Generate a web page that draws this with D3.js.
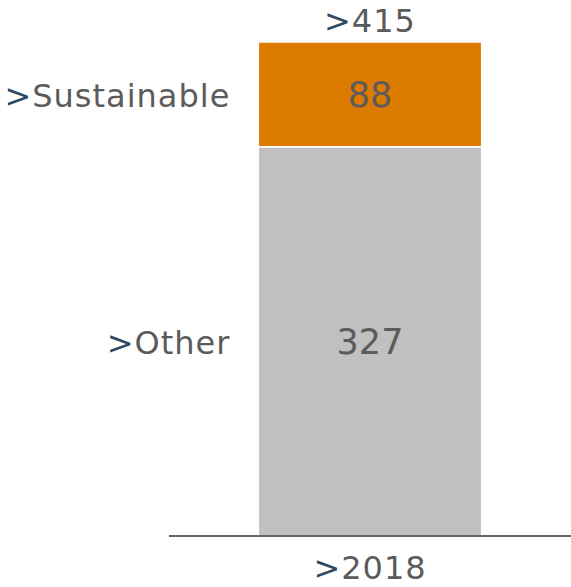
<!DOCTYPE html>
<html>
<head>
<meta charset="utf-8">
<script src="https://cdn.jsdelivr.net/npm/d3@7"></script>
<style>
  body { margin: 0; background: #fff; }
  text { font-family: "DejaVu Sans", Verdana, sans-serif; }
</style>
</head>
<body>
<div id="chart"></div>
<script>
// Data
const years = ["2018"];
const seriesNames = ["Other", "Sustainable"];
const other = [327];
const sustainable = [88];
const totals = [415];

const width = 571;
const height = 587;
const margin = { top: 42, right: 0, bottom: 51, left: 169 };

const colors = { Other: "#c0c0c0", Sustainable: "#dd7a00" };
const textColor = "#5b5b5b";
const arrowColor = "#2e4a62";
const labelSize = 32;
const valueSize = 35;

const svg = d3.select("#chart").append("svg").attr("width", width).attr("height", height);

const rows = years.map((y, i) => ({ year: y, Other: other[i], Sustainable: sustainable[i], total: totals[i] }));
const stacked = d3.stack().keys(seriesNames)(rows);

const xScale = d3
  .scaleBand()
  .domain(years)
  .range([margin.left, width - margin.right])
  .paddingInner(0)
  .paddingOuter(0.4);

const yScale = d3
  .scaleLinear()
  .domain([0, d3.max(totals)])
  .range([height - margin.bottom, margin.top]);

// label with a dark ">" prefix
function arrowText(sel, label) {
  sel.attr("letter-spacing", 1);
  sel.append("tspan").attr("fill", arrowColor).text(">");
  sel.append("tspan").attr("fill", textColor).text(label);
}

// bars
stacked.forEach((layer) => {
  svg
    .append("g")
    .selectAll("rect")
    .data(layer)
    .enter()
    .append("rect")
    .attr("x", (d) => xScale(d.data.year))
    .attr("y", (d) => yScale(d[1]))
    .attr("width", xScale.bandwidth())
    .attr("height", (d) => yScale(d[0]) - yScale(d[1]))
    .attr("fill", colors[layer.key])
    .attr("stroke", "#fff")
    .attr("stroke-width", 1.5);

  // value inside
  svg
    .append("g")
    .selectAll("text")
    .data(layer)
    .enter()
    .append("text")
    .attr("x", (d) => xScale(d.data.year) + xScale.bandwidth() / 2)
    .attr("y", (d) => (yScale(d[0]) + yScale(d[1])) / 2 + 13)
    .attr("text-anchor", "middle")
    .attr("font-size", valueSize)
    .attr("fill", textColor)
    .text((d) => d.data[layer.key]);

  // series name on the left
  const last = layer[0];
  svg
    .append("text")
    .attr("x", xScale(last.data.year) - 28)
    .attr("y", (yScale(last[0]) + yScale(last[1])) / 2 + 13)
    .attr("text-anchor", "end")
    .attr("font-size", labelSize)
    .call(arrowText, layer.key);
});

// totals above
svg
  .selectAll(".total")
  .data(rows)
  .enter()
  .append("text")
  .attr("class", "total")
  .attr("x", (d) => xScale(d.year) + xScale.bandwidth() / 2)
  .attr("y", (d) => yScale(d.total) - 10)
  .attr("text-anchor", "middle")
  .attr("font-size", labelSize)
  .each(function (d) {
    d3.select(this).call(arrowText, d.total);
  });

// x axis
const xAxis = svg.append("g").attr("transform", `translate(0, ${height - margin.bottom})`);
xAxis
  .append("line")
  .attr("x1", margin.left)
  .attr("x2", width)
  .attr("stroke", "#666")
  .attr("stroke-width", 2);
xAxis
  .selectAll("text")
  .data(years)
  .enter()
  .append("text")
  .attr("x", (d) => xScale(d) + xScale.bandwidth() / 2)
  .attr("y", 43)
  .attr("text-anchor", "middle")
  .attr("font-size", labelSize)
  .each(function (d) {
    d3.select(this).call(arrowText, d);
  });
</script>
</body>
</html>
